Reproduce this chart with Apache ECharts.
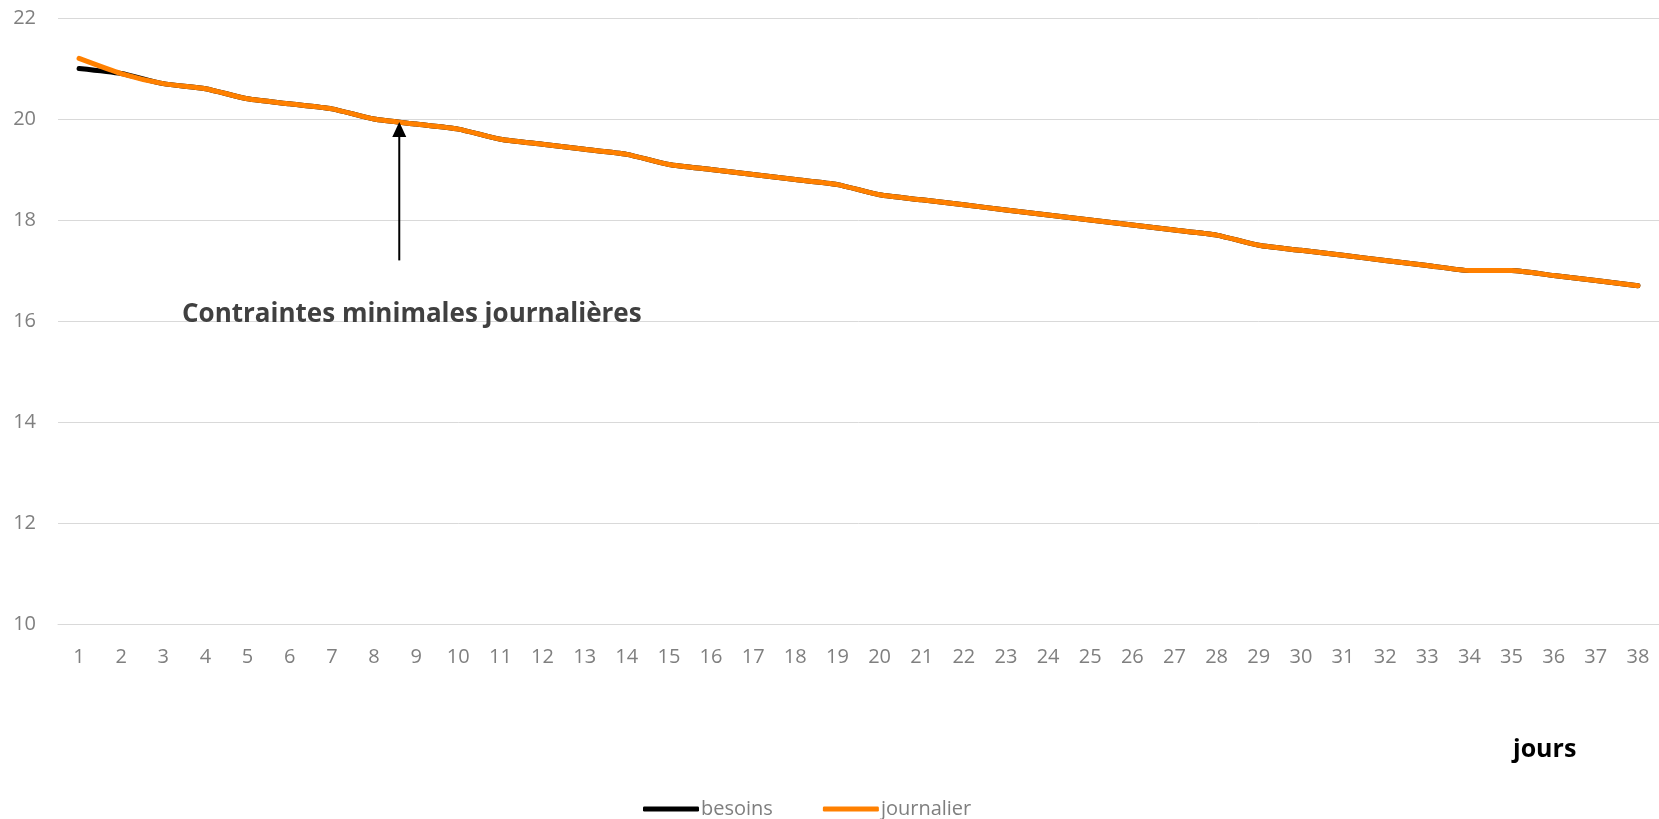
<!DOCTYPE html>
<html>
<head>
<meta charset="utf-8">
<style>
  html, body { margin: 0; padding: 0; background: #fff; }
  #chart { width: 1659px; height: 819px; }
</style>
<script src="https://cdn.jsdelivr.net/npm/echarts@6/dist/echarts.min.js"></script>
</head>
<body>
<div id="chart"></div>
<script>
// Jours 1..38
const jours = Array.from({ length: 38 }, (_, i) => String(i + 1));

// Besoins minimaux par jour
const besoins = [
  21.0, 20.9, 20.7, 20.6, 20.4, 20.3, 20.2, 20.0, 19.9, 19.8,
  19.6, 19.5, 19.4, 19.3, 19.1, 19.0, 18.9, 18.8, 18.7, 18.5,
  18.4, 18.3, 18.2, 18.1, 18.0, 17.9, 17.8, 17.7, 17.5, 17.4,
  17.3, 17.2, 17.1, 17.0, 17.0, 16.9, 16.8, 16.7
];

// Contrainte journalière
const journalier = [
  21.2, 20.9, 20.7, 20.6, 20.4, 20.3, 20.2, 20.0, 19.9, 19.8,
  19.6, 19.5, 19.4, 19.3, 19.1, 19.0, 18.9, 18.8, 18.7, 18.5,
  18.4, 18.3, 18.2, 18.1, 18.0, 17.9, 17.8, 17.7, 17.5, 17.4,
  17.3, 17.2, 17.1, 17.0, 17.0, 16.9, 16.8, 16.7
];

// Flèche d'annotation : position sur l'axe des jours (entre 8 et 9) et pied de la flèche
const flecheJour = 8.6;
const flecheBas = 17.2;

const font = '"Open Sans", "Noto Sans", sans-serif';
const gris = '#7f7f7f';

const chart = echarts.init(document.getElementById('chart'), null, { renderer: 'canvas' });

chart.setOption({
  animation: false,
  backgroundColor: '#ffffff',
  grid: { left: 58, right: 0, top: 18, bottom: 195, containLabel: false },
  legend: {
    top: 794,
    left: 638,
    icon: 'roundRect',
    itemWidth: 56,
    itemHeight: 5,
    itemGap: 50,
    textStyle: { color: gris, fontSize: 20, fontFamily: font, padding: [0, 0, 0, -3] },
    data: ['besoins', 'journalier']
  },
  xAxis: {
    type: 'category',
    data: jours,
    boundaryGap: true,
    axisLine: { show: true, lineStyle: { color: '#d9d9d9', width: 1 } },
    axisTick: { show: false },
    axisLabel: { color: gris, fontSize: 20, fontFamily: font, margin: 23, interval: 0 }
  },
  yAxis: {
    type: 'value',
    min: 10,
    max: 22,
    interval: 2,
    axisLine: { show: false },
    axisTick: { show: false },
    axisLabel: { color: gris, fontSize: 20, fontFamily: font, margin: 22 },
    splitLine: { lineStyle: { color: '#d9d9d9', width: 1 } }
  },
  series: [
    {
      name: 'besoins',
      type: 'line',
      data: besoins,
      smooth: 0.2,
      showSymbol: false,
      symbol: 'none',
      lineStyle: { color: '#000000', width: 5, cap: 'round' },
      itemStyle: { color: '#000000' },
      z: 2
    },
    {
      name: 'journalier',
      type: 'line',
      data: journalier,
      smooth: 0.2,
      showSymbol: false,
      symbol: 'none',
      lineStyle: { color: '#ff8000', width: 5, cap: 'round' },
      itemStyle: { color: '#ff8000' },
      z: 3
    }
  ]
});

// Place l'annotation à partir des échelles du graphique
function placeAnnotation() {
  const i0 = Math.floor(flecheJour) - 1;
  const t = flecheJour - Math.floor(flecheJour);
  const p0 = chart.convertToPixel({ seriesIndex: 1 }, [i0, journalier[i0]]);
  const p1 = chart.convertToPixel({ seriesIndex: 1 }, [i0 + 1, journalier[i0 + 1]]);
  const x = p0[0] + (p1[0] - p0[0]) * t;
  const yTip = p0[1] + (p1[1] - p0[1]) * t;
  const yBas = chart.convertToPixel({ yAxisIndex: 0 }, flecheBas);
  const head = 15;
  const half = 7;

  chart.setOption({
    graphic: [
      {
        type: 'line',
        shape: { x1: x, y1: yBas, x2: x, y2: yTip + head - 1 },
        style: { stroke: '#000', lineWidth: 2 },
        z: 10
      },
      {
        type: 'polygon',
        shape: { points: [[x, yTip], [x - half, yTip + head], [x + half, yTip + head]] },
        style: { fill: '#000' },
        z: 10
      },
      {
        type: 'text',
        left: 182,
        top: 302,
        style: {
          text: 'Contraintes minimales journalières',
          fill: '#404040',
          font: 'bold 26px ' + font
        },
        z: 10
      },
      {
        type: 'text',
        left: 1513,
        top: 737,
        style: {
          text: 'jours',
          fill: '#000000',
          font: 'bold 25px ' + font
        },
        z: 10
      }
    ]
  });
}
placeAnnotation();
</script>
</body>
</html>
